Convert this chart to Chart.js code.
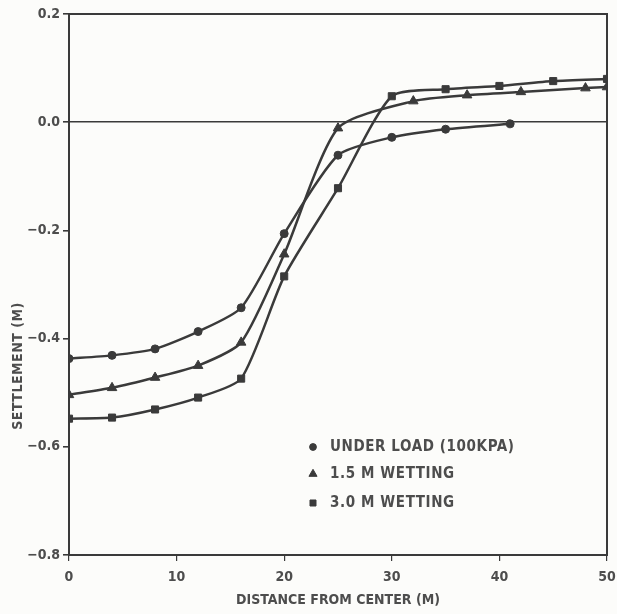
<!DOCTYPE html>
<html>
<head>
<meta charset="utf-8">
<script src="https://cdn.jsdelivr.net/npm/chart.js@4/dist/chart.umd.min.js"></script>
<style>
html,body{margin:0;padding:0;background:#fcfcfa;}
#wrap{width:617px;height:614px;position:relative;}
</style>
</head>
<body>
<div id="wrap"><canvas id="c" width="617" height="614"></canvas></div>
<script>
// Data
const loadX = [0, 4, 8, 12, 16, 20, 25, 30, 35, 41];
const loadY = [-0.437, -0.431, -0.419, -0.387, -0.343, -0.206, -0.061, -0.028, -0.013, -0.003];
const wet15X = [0, 4, 8, 12, 16, 20, 25, 32, 37, 42, 48, 50];
const wet15Y = [-0.504, -0.491, -0.472, -0.450, -0.407, -0.244, -0.011, 0.039, 0.050, 0.056, 0.063, 0.065];
const wet30X = [0, 4, 8, 12, 16, 20, 25, 30, 35, 40, 45, 50];
const wet30Y = [-0.548, -0.546, -0.531, -0.509, -0.474, -0.285, -0.122, 0.048, 0.061, 0.067, 0.076, 0.080];
const seriesNames = ['UNDER LOAD (100KPA)', '1.5 M WETTING', '3.0 M WETTING'];
const xTicks = [0, 10, 20, 30, 40, 50];
const yTicks = [-0.8, -0.6, -0.4, -0.2, 0.0, 0.2];
const xTitle = 'DISTANCE FROM CENTER (M)';
const yTitle = 'SETTLEMENT (M)';

const INK = '#3a3a3a';
const TXT = '#4d4d4d';
const FONT = '"DejaVu Sans Condensed", "DejaVu Sans", sans-serif';

function pts(xs, ys){ return xs.map((x,i)=>({x:x, y:ys[i]})); }

const styles = ['circle','triangle','rect'];
const radii = [4, 5.5, 5];

const datasets = [
  {label: seriesNames[0], data: pts(loadX, loadY)},
  {label: seriesNames[1], data: pts(wet15X, wet15Y)},
  {label: seriesNames[2], data: pts(wet30X, wet30Y)}
].map((d,i)=>Object.assign(d,{
  borderColor: INK, backgroundColor: INK, borderWidth: 2.5,
  pointStyle: styles[i], pointRadius: radii[i], pointBorderWidth: 1,
  pointBackgroundColor: INK, pointBorderColor: INK,
  tension: 0.22, fill: false
}));

const overlay = {
  id: 'overlay',
  afterDraw(chart){
    const ctx = chart.ctx;
    const a = chart.chartArea;
    ctx.save();
    // top frame line
    ctx.strokeStyle = INK; ctx.lineWidth = 2;
    ctx.beginPath(); ctx.moveTo(a.left, a.top); ctx.lineTo(a.right, a.top); ctx.stroke();
    // y title
    ctx.fillStyle = TXT;
    ctx.font = 'bold 14px ' + FONT;
    ctx.letterSpacing = '0.5px';
    ctx.textAlign = 'center';
    ctx.textBaseline = 'middle';
    ctx.translate(18, 366);
    ctx.rotate(-Math.PI/2);
    ctx.fillText(yTitle, 0, 0);
    ctx.restore();
    // legend
    ctx.save();
    const rows = [447, 474, 503];
    ctx.font = 'bold 15px ' + FONT;
    ctx.letterSpacing = '0.6px';
    ctx.textAlign = 'left';
    ctx.textBaseline = 'middle';
    chart.data.datasets.forEach((ds,i)=>{
      ctx.fillStyle = INK; ctx.strokeStyle = INK;
      Chart.helpers.drawPoint(ctx, {pointStyle: ds.pointStyle, radius: radii[i]*0.85, borderWidth:1, rotation:0}, 313, rows[i]);
      ctx.fillStyle = TXT;
      ctx.fillText(ds.label, 330, rows[i]);
    });
    ctx.restore();
  }
};

new Chart(document.getElementById('c'), {
  type: 'line',
  data: {datasets},
  plugins: [overlay],
  options: {
    responsive: false,
    animation: false,
    layout: {padding: {top: 14, right: 0, bottom: 0, left: 0}},
    plugins: {legend: {display: false}, tooltip: {enabled: false}},
    scales: {
      x: {
        type: 'linear', min: 0, max: 50,
        afterBuildTicks(s){ s.ticks = xTicks.map(v=>({value:v})); },
        afterFit(s){ s.height = 59; s.paddingLeft = 0; s.paddingRight = 0; },
        border: {display: true, color: INK, width: 2},
        grid: {display: true, drawOnChartArea: false, drawTicks: true, tickLength: 6, color: INK, lineWidth: 1.2},
        ticks: {color: TXT, font: {family: FONT, size: 14, weight: 'bold'}, padding: 8, maxRotation: 0,
                callback: v => String(v)},
        title: {display: true, text: xTitle, color: TXT, font: {family: FONT, size: 14, weight: 'bold'}, padding: {top: 0, bottom: 5}}
      },
      y: {
        type: 'linear', min: -0.8, max: 0.2,
        afterBuildTicks(s){ s.ticks = yTicks.map(v=>({value:v})); },
        afterFit(s){ s.width = 69; s.paddingTop = 0; s.paddingBottom = 0; },
        border: {display: true, color: INK, width: 2},
        grid: {display: true, drawTicks: true, tickLength: 6, lineWidth: 1.6,
               color: ctx => (ctx.tick && Math.abs(ctx.tick.value) < 1e-9) ? INK : 'rgba(0,0,0,0)',
               tickColor: INK},
        ticks: {color: TXT, font: {family: FONT, size: 14, weight: 'bold'}, padding: 3,
                callback: v => (v < 0 ? '\u2212' : '') + Math.abs(v).toFixed(1)}
      },
      y2: {
        type: 'linear', position: 'right', min: -0.8, max: 0.2,
        afterFit(s){ s.width = 10; },
        border: {display: true, color: INK, width: 2},
        grid: {display: false},
        ticks: {display: false}
      }
    }
  }
});
</script>
</body>
</html>
